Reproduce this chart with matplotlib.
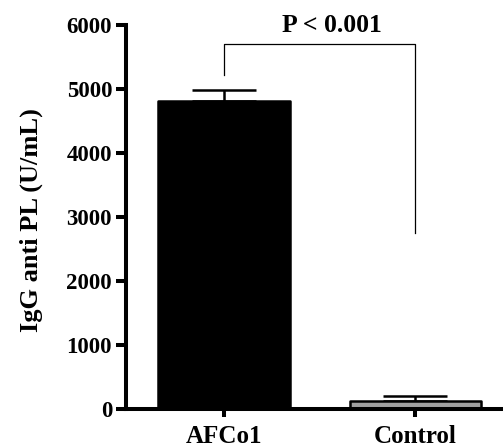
import matplotlib
matplotlib.use("Agg")
import matplotlib.pyplot as plt

# data
groups = ["AFCo1", "Control"]
means = [4820, 125]
errors = [170, 75]
bar_colors = ["black", "#a0a0a0"]
yticks = [0, 1000, 2000, 3000, 4000, 5000, 6000]

# significance bracket (left leg bottom, top, right leg bottom)
bracket_y = [5220, 5700, 2760]
p_label = "P < 0.001"

plt.rcParams['font.family'] = ['Liberation Serif', 'DejaVu Serif']
plt.rcParams['font.weight'] = 'bold'

fig = plt.figure(figsize=(5.03, 4.48), dpi=100)
ax = fig.add_axes([0.2505, 0.0864, 0.7495, 0.8577])

x = list(range(len(groups)))
bars = ax.bar(x, means, width=0.686, color=bar_colors, edgecolor="black",
              linewidth=1.8, zorder=2)
for b in bars:
    b.set_joinstyle("round")
ax.errorbar(x, means, yerr=[[0, 0], errors], fmt="none", ecolor="black",
            elinewidth=1.8, capsize=23, capthick=1.8, zorder=1)

# bracket
ax.plot([0, 0, 1, 1], bracket_y[:1] + bracket_y[1:2] * 2 + bracket_y[2:],
        color="black", linewidth=0.9, clip_on=False)
ax.text(0.565, 6000, p_label, ha="center", va="center", fontsize=18.5,
        fontweight="bold", clip_on=False)

ax.set_xlim(-0.513, 1.46)
ax.set_ylim(0, 6000)
ax.set_yticks(yticks)
ax.set_xticks(x)
ax.set_xticklabels(groups, fontsize=18, fontweight="bold")
ax.tick_params(axis="y", labelsize=16.5, width=2.9, length=7, pad=3)
ax.tick_params(axis="x", width=2.9, length=6, pad=5)
for s in ["top", "right"]:
    ax.spines[s].set_visible(False)
for s in ["left", "bottom"]:
    ax.spines[s].set_linewidth(2.9)
ax.set_ylabel("IgG anti PL (U/mL)", fontsize=19, fontweight="bold")
ax.yaxis.set_label_coords(-0.22, 0.4926)

fig.savefig("out.png", dpi=100)
